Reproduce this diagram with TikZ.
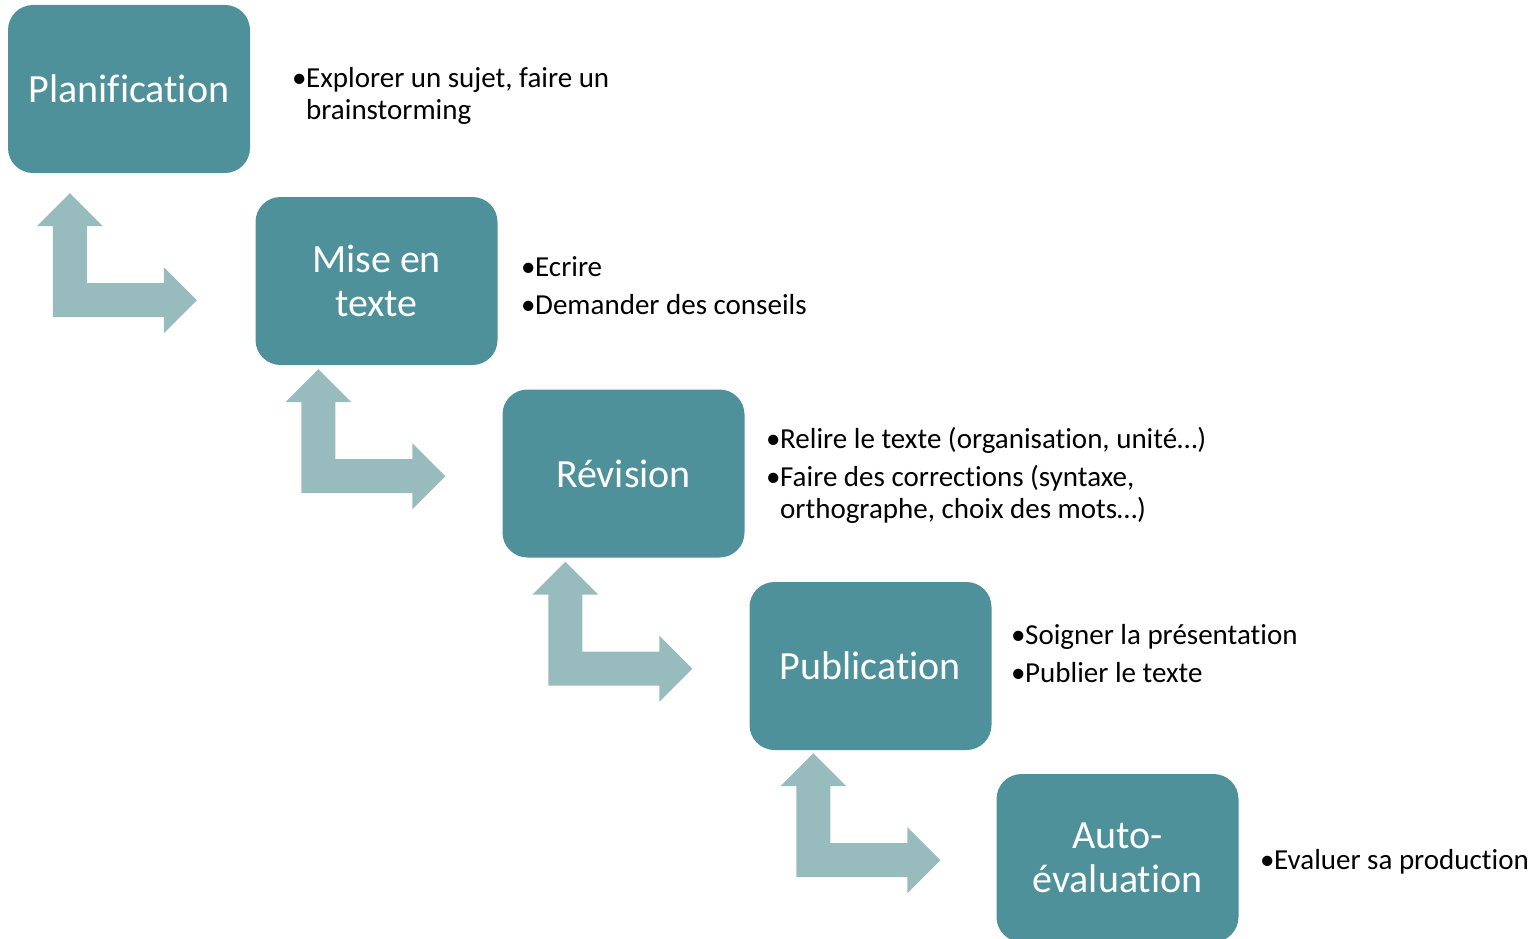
\documentclass[tikz,border=0pt]{standalone}
\usepackage{fontspec}
\setmainfont{Carlito}[RawFeature={-liga;-clig;-calt;-dlig;-hlig}]
\definecolor{sarcelle}{RGB}{79,145,155}
\definecolor{sarcelleclair}{RGB}{152,187,189}
\tikzset{
    bentarrow/.pic={
        \fill[sarcelleclair] (0,0) -- (0,-91) -- (-16,-91) -- (17,-124) -- (50,-91) -- (34,-91)
            -- (34,-34) -- (111,-34) -- (111,-50) -- (144,-17) -- (111,16) -- (111,0) -- cycle;
    }
}
\begin{document}
\begin{tikzpicture}[
        x=1pt, y=-1pt,
        etape/.style={rectangle, rounded corners=25pt, fill=sarcelle, text=white,
            minimum width=242pt, minimum height=168pt, inner sep=0pt, align=center,
            font=\fontsize{40}{44}\selectfont},
        puces/.style={inner sep=0pt, anchor=base west, font=\fontsize{29}{32}\selectfont}
    ]
        \useasboundingbox (0,0) rectangle (1537,939);
        \begin{scope}
        \clip (0,0) rectangle (1537,939);

        % Les étapes
        \node[etape] (plan) at (129,89) {Planification};
        \node[etape] (mise) at (376.5,281) {Mise en\\texte};
        \node[etape] (rev) at (623.5,473.5) {Révision};
        \node[etape] (pub) at (870.5,666) {Publication};
        \node[etape] (auto) at (1117.5,858) {Auto-\\évaluation};

        % Les flèches entre les étapes
        \pic at ([shift={(45,144)}]plan.south west) {bentarrow};
        \pic at ([shift={(46,128)}]mise.south west) {bentarrow};
        \pic at ([shift={(46,128)}]rev.south west) {bentarrow};
        \pic at ([shift={(47,127)}]pub.south west) {bentarrow};

        % Les descriptions
        \node[puces] (tplan) at (292,88) {\begin{tabular}[t]{@{}l@{}l@{}}
            \makebox[14pt][l]{•} & Explorer un sujet, faire un\\
             & brainstorming
        \end{tabular}};
        \node[puces] (tmise) at (521,276) {\begin{tabular}[t]{@{}l@{}l@{}}
            \makebox[14pt][l]{•} & Ecrire\\[6pt]
            \makebox[14pt][l]{•} & Demander des conseils
        \end{tabular}};
        \node[puces] (trev) at (766,448) {\begin{tabular}[t]{@{}l@{}l@{}}
            \makebox[14pt][l]{•} & Relire le texte (organisation, unité…)\\[6pt]
            \makebox[14pt][l]{•} & Faire des corrections (syntaxe,\\
             & orthographe, choix des mots…)
        \end{tabular}};
        \node[puces] (tpub) at (1011,644) {\begin{tabular}[t]{@{}l@{}l@{}}
            \makebox[14pt][l]{•} & Soigner la présentation\\[6pt]
            \makebox[14pt][l]{•} & Publier le texte
        \end{tabular}};
        \node[puces] (tauto) at (1260,869) {\begin{tabular}[t]{@{}l@{}l@{}}
            \makebox[14pt][l]{•} & Evaluer sa production
        \end{tabular}};
        \end{scope}
    \end{tikzpicture}
\end{document}
